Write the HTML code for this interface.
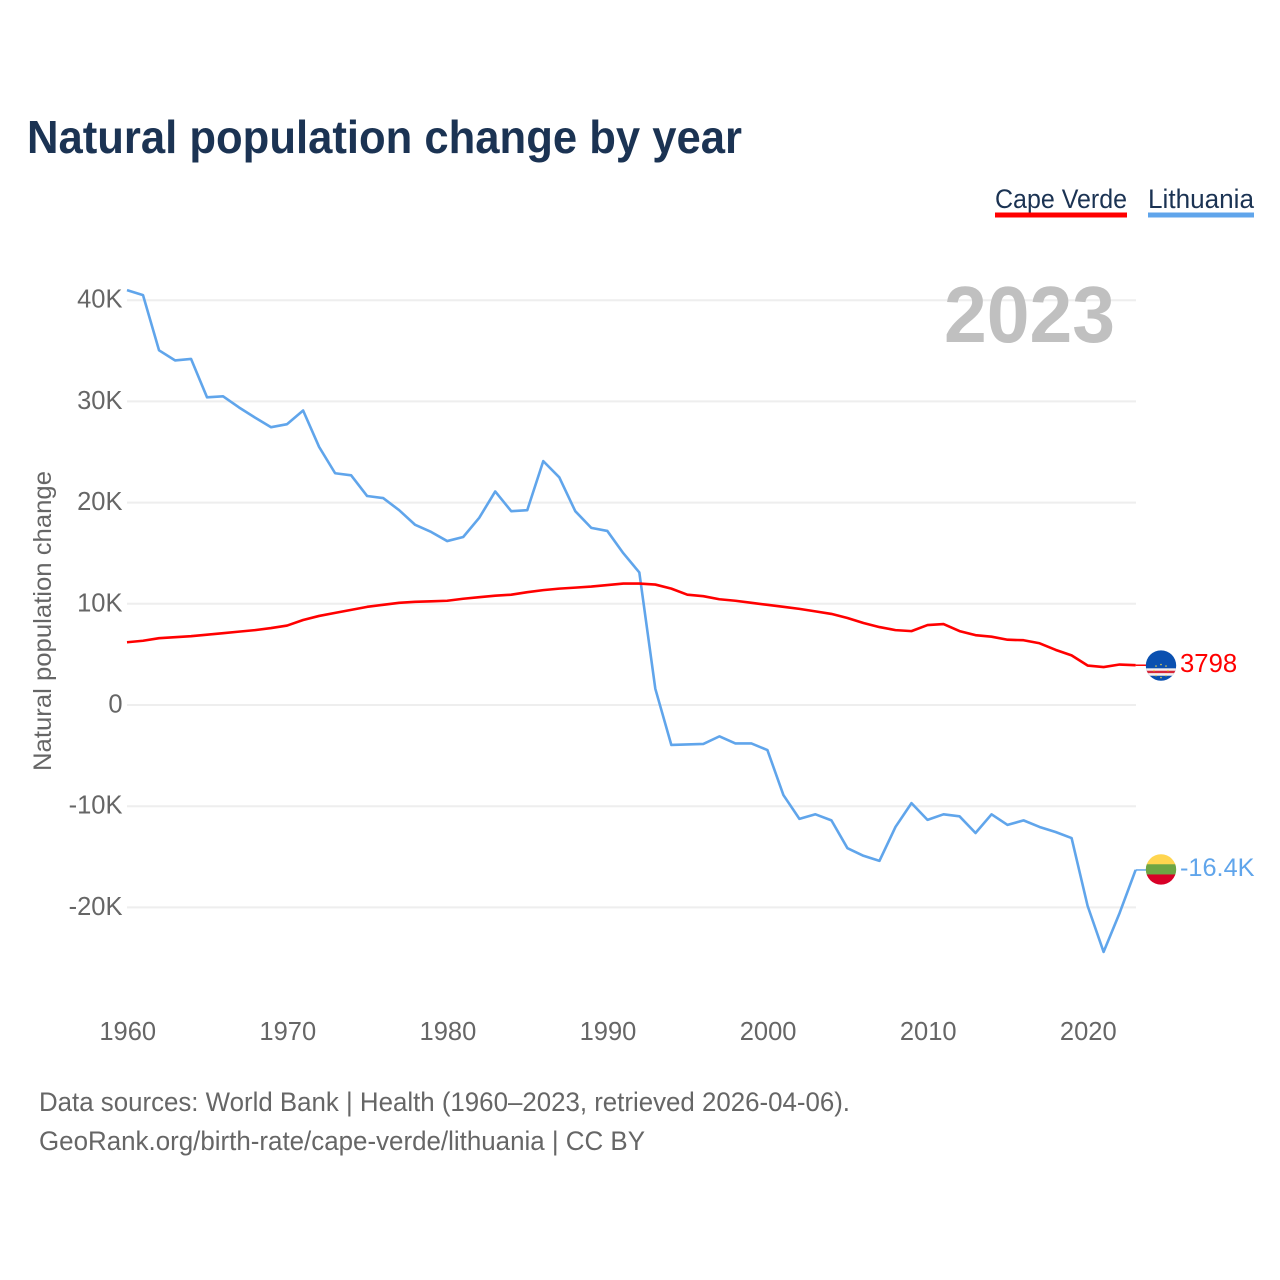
<!DOCTYPE html>
<html lang="en">
<head>
<meta charset="utf-8">
<title>Natural population change by year</title>
<style>
html,body{margin:0;padding:0;background:#fff;}
svg{display:block;font-family:"Liberation Sans",sans-serif;}
</style>
</head>
<body>
<svg id="chart" width="1280" height="1280" viewBox="0 0 1280 1280" xmlns="http://www.w3.org/2000/svg">
  <rect width="1280" height="1280" fill="#ffffff"/>
  <text x="27" y="153" font-size="46" font-weight="700" fill="#1b3353" textLength="715" lengthAdjust="spacingAndGlyphs">Natural population change by year</text>

  <g>
    <text x="995" y="208" font-size="27" fill="#1b3353" textLength="132" lengthAdjust="spacingAndGlyphs">Cape Verde</text>
    <rect x="995" y="212.5" width="132" height="5" fill="#ff0000"/>
  </g>
  <g>
    <text x="1148" y="208" font-size="27" fill="#1b3353" textLength="106" lengthAdjust="spacingAndGlyphs">Lithuania</text>
    <rect x="1148" y="212.5" width="106" height="5" fill="#60a5eb"/>
  </g>

  <g id="grid"></g>
  <g id="yticks"></g>
  <g id="xticks"></g>

  <text x="944" y="342" font-size="80" font-weight="700" fill="#c0c0c0" textLength="171" lengthAdjust="spacingAndGlyphs">2023</text>

  <text transform="translate(51 621) rotate(-90)" text-anchor="middle" font-size="25" fill="#666666" textLength="300" lengthAdjust="spacingAndGlyphs">Natural population change</text>

  <g id="series"></g>

  <text x="39" y="1111" font-size="27" fill="#666666" textLength="811" lengthAdjust="spacingAndGlyphs">Data sources: World Bank | Health (1960–2023, retrieved 2026-04-06).</text>
  <text x="39" y="1150" font-size="27" fill="#666666" textLength="606" lengthAdjust="spacingAndGlyphs">GeoRank.org/birth-rate/cape-verde/lithuania | CC BY</text>
</svg>

<script>
var years = [];
for (var yr = 1960; yr <= 2023; yr++) { years.push(yr); }
var yTickValues = [40, 30, 20, 10, 0, -10, -20];
var yTickLabels = ["40K", "30K", "20K", "10K", "0", "-10K", "-20K"];
var xTickValues = [1960, 1970, 1980, 1990, 2000, 2010, 2020];
var xTickLabels = ["1960", "1970", "1980", "1990", "2000", "2010", "2020"];
var capeVerdeValues = [6.2, 6.35, 6.6, 6.7, 6.8, 6.95, 7.1, 7.25, 7.4, 7.6, 7.85, 8.4, 8.8, 9.1, 9.4, 9.7, 9.9, 10.1, 10.2, 10.25, 10.3, 10.5, 10.65, 10.8, 10.9, 11.15, 11.35, 11.5, 11.6, 11.7, 11.85, 12.0, 12.0, 11.9, 11.5, 10.9, 10.75, 10.45, 10.3, 10.1, 9.9, 9.7, 9.5, 9.25, 9.0, 8.6, 8.1, 7.7, 7.4, 7.3, 7.9, 8.0, 7.3, 6.9, 6.75, 6.45, 6.4, 6.1, 5.45, 4.9, 3.9, 3.75, 4.0, 3.93];
var lithuaniaValues = [41.0, 40.5, 35.05, 34.05, 34.2, 30.4, 30.5, 29.4, 28.4, 27.45, 27.75, 29.1, 25.5, 22.9, 22.7, 20.65, 20.45, 19.25, 17.8, 17.1, 16.2, 16.6, 18.5, 21.1, 19.15, 19.25, 24.1, 22.5, 19.15, 17.5, 17.2, 15.0, 13.1, 1.6, -3.95, -3.9, -3.85, -3.1, -3.8, -3.8, -4.45, -8.9, -11.25, -10.8, -11.4, -14.15, -14.9, -15.4, -12.05, -9.7, -11.35, -10.8, -11.0, -12.65, -10.8, -11.85, -11.4, -12.05, -12.55, -13.15, -19.85, -24.4, -20.55, -16.3];
var capeVerdeLabel = "3798";
var lithuaniaLabel = "-16.4K";

var NS = "http://www.w3.org/2000/svg";
function xScale(year) { return 127 + (year - 1960) * 16.01; }
function yScale(v) { return 705 - v * 10.12; }
function make(tag, attrs, parent) {
  var el = document.createElementNS(NS, tag);
  for (var k in attrs) { el.setAttribute(k, attrs[k]); }
  parent.appendChild(el);
  return el;
}
function linePoints(values) {
  return values.map(function (v, i) {
    return xScale(years[i]).toFixed(2) + "," + yScale(v).toFixed(2);
  }).join(" ");
}

var grid = document.getElementById("grid");
var yticks = document.getElementById("yticks");
yTickValues.forEach(function (v, i) {
  var gl = make("line", { x1: 127, x2: 1136, y1: yScale(v), y2: yScale(v), stroke: "#eeeeee", "stroke-width": 2 }, grid);
  
  
  var t = make("text", { x: 122.5, y: yScale(v) + 7.5, "text-anchor": "end", "font-size": 25.5, fill: "#666666" }, yticks);
  
  
  t.textContent = yTickLabels[i];
});

var xticks = document.getElementById("xticks");
xTickValues.forEach(function (year, i) {
  var t = make("text", { x: xScale(year) + 0.7, y: 1040, "text-anchor": "middle", "font-size": 25.5, fill: "#666666" }, xticks);
  
  
  t.textContent = xTickLabels[i];
});

var series = document.getElementById("series");

var lt = make("polyline", { points: linePoints(lithuaniaValues), fill: "none", stroke: "#60a5eb", "stroke-width": 2.6, "stroke-linejoin": "round" }, series);



var cv = make("polyline", { points: linePoints(capeVerdeValues), fill: "none", stroke: "#ff0000", "stroke-width": 2.6, "stroke-linejoin": "round" }, series);



// End-of-line markers follow the final value of each series
var cvY = yScale(capeVerdeValues[capeVerdeValues.length - 1]);
var ltY = yScale(lithuaniaValues[lithuaniaValues.length - 1]);
var endX = xScale(2023);

var cvConn = make("line", { x1: endX, x2: 1146, y1: cvY, y2: cvY, stroke: "#ff0000", "stroke-width": 1.5 }, series);


var ltConn = make("line", { x1: endX, x2: 1146, y1: ltY, y2: ltY, stroke: "#60a5eb", "stroke-width": 1.5 }, series);



var defs = make("defs", {}, series);
var clipCv = make("clipPath", { id: "clip-cv" }, defs);
make("circle", { cx: 1161, cy: 0, r: 15.2 }, clipCv);
var clipLt = make("clipPath", { id: "clip-lt" }, defs);
make("circle", { cx: 1161, cy: 0, r: 15.2 }, clipLt);

var cvFlag = make("g", { transform: "translate(0 " + (cvY + 0.3) + ")" }, series);


var cvInner = make("g", { "clip-path": "url(#clip-cv)" }, cvFlag);
make("rect", { x: 1145, y: -16, width: 32, height: 32, fill: "#0a50b0" }, cvInner);
make("rect", { x: 1145, y: 2.8, width: 32, height: 7.4, fill: "#f4f0f0" }, cvInner);
make("rect", { x: 1145, y: 5.2, width: 32, height: 2.4, fill: "#d8283a" }, cvInner);
[[-5, 0.5], [0, -1], [5, 0.5], [-7, 5], [7, 5], [-5, 10], [0, 12], [5, 10]].forEach(function (s) {
  make("circle", { cx: 1161 + s[0], cy: s[1], r: 0.8, fill: "#e8d24a" }, cvInner);
});

var ltFlag = make("g", { transform: "translate(0 " + (ltY - 0.5) + ")" }, series);


var ltInner = make("g", { "clip-path": "url(#clip-lt)" }, ltFlag);
make("rect", { x: 1145, y: -16, width: 32, height: 11, fill: "#ffd54f" }, ltInner);
make("rect", { x: 1145, y: -5.2, width: 32, height: 10.4, fill: "#6da544" }, ltInner);
make("rect", { x: 1145, y: 5, width: 32, height: 11, fill: "#d80027" }, ltInner);

var cvText = make("text", { x: 1180, y: cvY + 7, "font-size": 25.7, fill: "#ff0000" }, series);


cvText.textContent = capeVerdeLabel;

var ltText = make("text", { x: 1180, y: ltY + 6, "font-size": 25.3, fill: "#60a5eb" }, series);


ltText.textContent = lithuaniaLabel;
</script>
</body>
</html>
